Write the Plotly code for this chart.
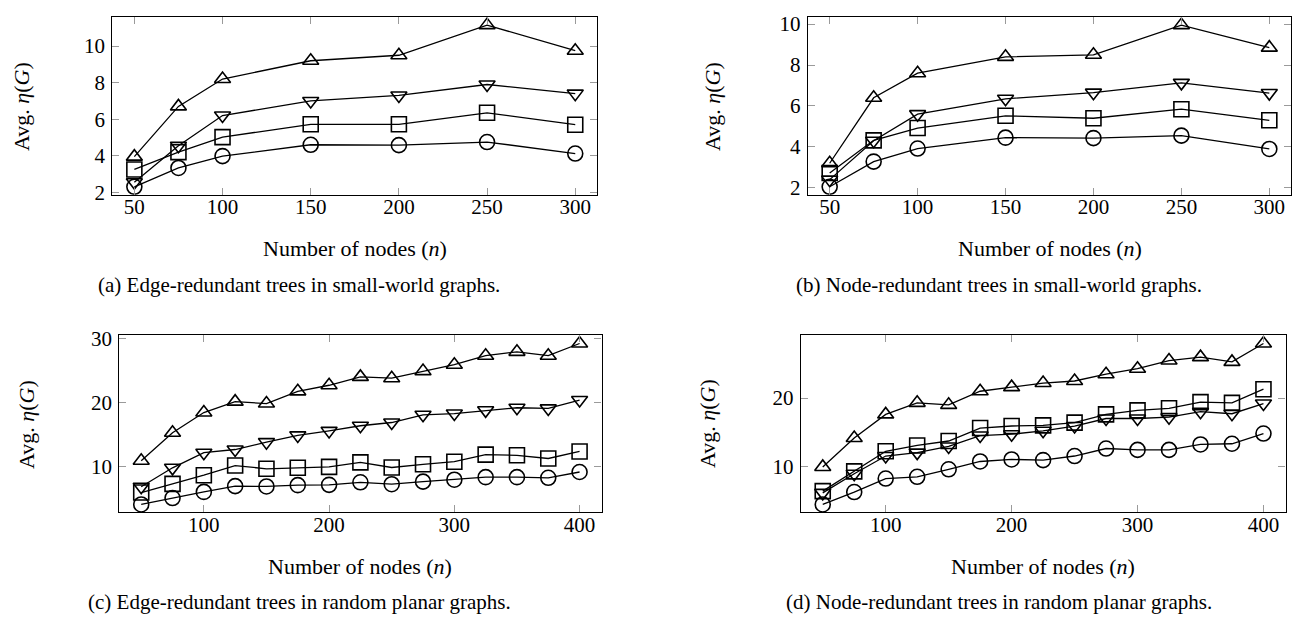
import plotly.graph_objects as go

# ---------------- data ----------------
x_small = [50, 75, 100, 150, 200, 250, 300]
x_large = [50, 75, 100, 125, 150, 175, 200, 225, 250, 275, 300, 325, 350, 375, 400]

a_tri_up = [3.95, 6.7, 8.2, 9.2, 9.5, 11.15, 9.75]
a_tri_down = [2.55, 4.55, 6.2, 7.0, 7.3, 7.9, 7.4]
a_square = [3.25, 4.2, 5.02, 5.72, 5.72, 6.35, 5.7]
a_circle = [2.3, 3.33, 3.98, 4.6, 4.58, 4.75, 4.12]

b_tri_up = [3.2, 6.4, 7.6, 8.4, 8.5, 9.95, 8.85]
b_tri_down = [2.4, 4.3, 5.6, 6.35, 6.65, 7.13, 6.63]
b_square = [2.72, 4.32, 4.92, 5.52, 5.4, 5.84, 5.3]
b_circle = [2.05, 3.28, 3.92, 4.45, 4.43, 4.55, 3.9]

c_tri_up = [10.95, 15.3, 18.45, 20.15, 19.85, 21.75, 22.7, 24.0, 23.8, 24.9, 25.9, 27.3, 27.9, 27.3, 29.2]
c_tri_down = [6.9, 9.85, 12.2, 12.7, 13.85, 14.9, 15.6, 16.4, 16.9, 18.1, 18.3, 18.8, 19.2, 19.1, 20.4]
c_square = [6.0, 7.35, 8.7, 10.2, 9.7, 9.85, 10.0, 10.7, 9.9, 10.4, 10.8, 11.9, 11.8, 11.3, 12.4]
c_circle = [4.15, 5.15, 6.1, 7.0, 6.95, 7.15, 7.2, 7.6, 7.3, 7.7, 8.0, 8.4, 8.4, 8.3, 9.2]

d_tri_up = [9.9, 14.15, 17.6, 19.3, 19.0, 21.0, 21.6, 22.2, 22.5, 23.5, 24.3, 25.5, 26.0, 25.3, 28.0]
d_tri_down = [6.1, 8.9, 11.5, 12.0, 12.9, 14.5, 14.7, 15.2, 15.9, 17.0, 17.0, 17.2, 18.0, 17.7, 19.2]
d_square = [6.35, 9.25, 12.2, 13.05, 13.7, 15.6, 15.9, 16.0, 16.4, 17.6, 18.2, 18.5, 19.4, 19.3, 21.3]
d_circle = [4.4, 6.22, 8.2, 8.45, 9.55, 10.7, 11.0, 10.9, 11.5, 12.6, 12.4, 12.4, 13.2, 13.3, 14.8]

ticks_small_x = [50, 100, 150, 200, 250, 300]
ticks_large_x = [100, 200, 300, 400]
ticks_a_y = [2, 4, 6, 8, 10]
ticks_b_y = [2, 4, 6, 8, 10]
ticks_c_y = [10, 20, 30]
ticks_d_y = [10, 20]

y_label = "Avg. <i>η</i>(<i>G</i>)"
x_label = "Number of nodes (<i>n</i>)"
captions = [
    "(a) Edge-redundant trees in small-world graphs.",
    "(b) Node-redundant trees in small-world graphs.",
    "(c) Edge-redundant trees in random planar graphs.",
    "(d) Node-redundant trees in random planar graphs.",
]

# ---------------- layout helpers ----------------
W, H = 1292, 624
FONT = "Liberation Serif, Times New Roman, serif"


def px_x(v):
    return v / W


def py_y(v):
    return 1 - v / H


def enlarge(vals, frac=0.05):
    lo, hi = min(vals), max(vals)
    d = (hi - lo) * frac
    return [lo - d, hi + d]


panels = [
    dict(x=x_small, series=[a_tri_up, a_tri_down, a_square, a_circle],
         xt=ticks_small_x, yt=ticks_a_y, box=(112.3, 597.3, 8.3, 191.7),
         ylab=(22, 101), xlab=(354.8, 247), cap=(299, 285)),
    dict(x=x_small, series=[b_tri_up, b_tri_down, b_square, b_circle],
         xt=ticks_small_x, yt=ticks_b_y, box=(807.7, 1291.3, 8.3, 191.7),
         ylab=(713, 101), xlab=(1049.5, 247), cap=(999, 285)),
    dict(x=x_large, series=[c_tri_up, c_tri_down, c_square, c_circle],
         xt=ticks_large_x, yt=ticks_c_y, box=(119.3, 601.5, 336.7, 519.3),
         ylab=(27, 428), xlab=(360.4, 575.5), cap=(299, 611.7)),
    dict(x=x_large, series=[d_tri_up, d_tri_down, d_square, d_circle],
         xt=ticks_large_x, yt=ticks_d_y, box=(800.7, 1285.5, 336.7, 519.3),
         ylab=(708, 428), xlab=(1043, 575.5), cap=(999, 611.7)),
]

symbols = ["triangle-up-open", "triangle-down-open", "square-open", "circle-open"]
sizes = [14, 14, 15, 15]

fig = go.Figure()
annotations = []

for i, p in enumerate(panels):
    n = "" if i == 0 else str(i + 1)
    xa, ya = "x" + n, "y" + n
    for s, sym, sz in zip(p["series"], symbols, sizes):
        fig.add_trace(go.Scatter(
            x=p["x"], y=s, xaxis=xa, yaxis=ya, mode="lines+markers",
            line=dict(color="black", width=1.3),
            marker=dict(symbol=sym, size=sz, color="black",
                        line=dict(color="black", width=1.6)),
            showlegend=False, hoverinfo="x+y"))
    allv = [v for s in p["series"] for v in s]
    x0, x1, y0, y1 = p["box"]
    axis_common = dict(showline=True, linecolor="black", linewidth=1.1, mirror="allticks",
                       ticks="inside", ticklen=7, tickwidth=1, tickcolor="#9a9a9a",
                       showgrid=False, zeroline=False,
                       tickfont=dict(family=FONT, size=21, color="black"))
    fig.layout["xaxis" + n] = dict(
        axis_common, domain=[px_x(x0), px_x(x1)], range=enlarge(p["x"]),
        tickvals=p["xt"], ticktext=[str(t) for t in p["xt"]], anchor=ya,
        ticklabelstandoff=-7)
    fig.layout["yaxis" + n] = dict(
        axis_common, domain=[py_y(y1), py_y(y0)], range=enlarge(allv),
        tickvals=p["yt"], ticktext=[str(t) for t in p["yt"]], anchor=xa,
        ticklabelstandoff=2)
    annotations.append(dict(text=y_label, x=px_x(p["ylab"][0]), y=py_y(p["ylab"][1]),
                            xref="paper", yref="paper", textangle=-90, showarrow=False,
                            xanchor="center", yanchor="middle",
                            font=dict(family=FONT, size=22, color="black")))
    annotations.append(dict(text=x_label, x=px_x(p["xlab"][0]), y=py_y(p["xlab"][1]),
                            xref="paper", yref="paper", showarrow=False,
                            xanchor="center", yanchor="middle",
                            font=dict(family=FONT, size=22, color="black")))
    annotations.append(dict(text=captions[i], x=px_x(p["cap"][0]), y=py_y(p["cap"][1]),
                            xref="paper", yref="paper", showarrow=False,
                            xanchor="center", yanchor="middle",
                            font=dict(family=FONT, size=21, color="black")))

fig.update_layout(width=W, height=H, margin=dict(l=0, r=0, t=0, b=0),
                  paper_bgcolor="white", plot_bgcolor="white",
                  annotations=annotations)

fig.write_html("out.html", post_script="document.body.style.margin='0';",
               config={"displayModeBar": False})
